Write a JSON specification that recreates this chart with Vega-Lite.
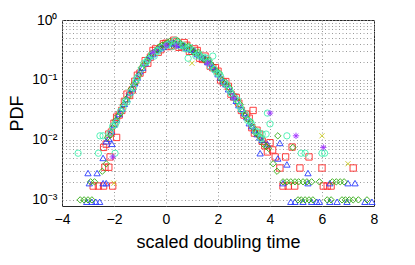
{
  "$schema": "https://vega.github.io/schema/vega-lite/v6.json",
  "width": 312,
  "height": 186,
  "autosize": "none",
  "padding": {"left": 62, "top": 20, "right": 41, "bottom": 59},
  "background": "white",
  "config": {
    "font": "Liberation Sans",
    "view": {"stroke": "#262626", "strokeWidth": 1},
    "axis": {
      "domain": false,
      "ticks": false,
      "grid": true,
      "gridColor": "#9a9a9a",
      "gridDash": [1, 2.5],
      "gridWidth": 1,
      "labelFont": "Liberation Sans",
      "labelFontSize": 14,
      "labelColor": "#000",
      "titleFont": "Liberation Sans",
      "titleFontSize": 18,
      "titleFontWeight": "normal",
      "titleColor": "#000"
    }
  },
  "data": {
    "values": [
      {"s":"r","x":-2.4,"y":0.0075},{"s":"r","x":-2.2,"y":0.0125},{"s":"r","x":-2.0,"y":0.019},{"s":"r","x":-1.8,"y":0.026},{"s":"r","x":-1.6,"y":0.044},{"s":"r","x":-1.4,"y":0.055},{"s":"r","x":-1.2,"y":0.095},{"s":"r","x":-1.0,"y":0.13},{"s":"r","x":-0.8,"y":0.21},{"s":"r","x":-0.6,"y":0.24},{"s":"r","x":-0.4,"y":0.33},{"s":"r","x":-0.2,"y":0.32},{"s":"r","x":0.0,"y":0.41},{"s":"r","x":0.2,"y":0.37},{"s":"r","x":0.4,"y":0.43},{"s":"r","x":0.6,"y":0.36},{"s":"r","x":0.8,"y":0.38},{"s":"r","x":1.0,"y":0.30},{"s":"r","x":1.2,"y":0.31},{"s":"r","x":1.4,"y":0.22},{"s":"r","x":1.6,"y":0.21},{"s":"r","x":1.8,"y":0.16},{"s":"r","x":2.0,"y":0.14},{"s":"r","x":2.2,"y":0.092},{"s":"r","x":2.4,"y":0.078},{"s":"r","x":2.6,"y":0.052},{"s":"r","x":2.8,"y":0.041},{"s":"r","x":3.0,"y":0.026},{"s":"r","x":3.2,"y":0.023},{"s":"r","x":3.35,"y":0.031},{"s":"r","x":3.4,"y":0.013},{"s":"r","x":3.6,"y":0.0125},{"s":"r","x":3.8,"y":0.008},{"s":"r","x":4.0,"y":0.009},{"s":"r","x":4.2,"y":0.0052},
      {"s":"r","x":-2.3,"y":0.0085},{"s":"r","x":-2.1,"y":0.0135},{"s":"r","x":-1.9,"y":0.024},{"s":"r","x":-1.7,"y":0.031},{"s":"r","x":-1.5,"y":0.058},{"s":"r","x":-1.3,"y":0.068},{"s":"r","x":-1.1,"y":0.12},{"s":"r","x":-0.9,"y":0.15},{"s":"r","x":-0.7,"y":0.19},{"s":"r","x":-0.5,"y":0.31},{"s":"r","x":-0.3,"y":0.29},{"s":"r","x":-0.1,"y":0.40},{"s":"r","x":0.1,"y":0.36},{"s":"r","x":0.3,"y":0.46},{"s":"r","x":0.5,"y":0.35},{"s":"r","x":0.7,"y":0.42},{"s":"r","x":0.9,"y":0.30},{"s":"r","x":1.1,"y":0.33},{"s":"r","x":1.3,"y":0.23},{"s":"r","x":1.5,"y":0.25},{"s":"r","x":1.7,"y":0.17},{"s":"r","x":1.9,"y":0.16},{"s":"r","x":2.1,"y":0.10},{"s":"r","x":2.3,"y":0.094},{"s":"r","x":2.5,"y":0.058},{"s":"r","x":2.7,"y":0.051},{"s":"r","x":2.9,"y":0.031},{"s":"r","x":3.1,"y":0.027},{"s":"r","x":3.3,"y":0.016},{"s":"r","x":3.5,"y":0.0145},{"s":"r","x":3.7,"y":0.0095},{"s":"r","x":3.9,"y":0.0063},{"s":"r","x":4.1,"y":0.0068},
      {"s":"r","x":4.38,"y":0.0034},{"s":"r","x":4.6,"y":0.0052},{"s":"r","x":4.85,"y":0.0076},{"s":"r","x":5.15,"y":0.0034},{"s":"r","x":5.5,"y":0.0052},{"s":"r","x":6.0,"y":0.0034},{"s":"r","x":7.2,"y":0.0034},{"s":"r","x":4.5,"y":0.0017},{"s":"r","x":4.7,"y":0.0017},{"s":"r","x":4.95,"y":0.0017},{"s":"r","x":6.05,"y":0.0017},{"s":"r","x":6.2,"y":0.0017},{"s":"r","x":6.35,"y":0.0017},
      {"s":"r","x":-2.35,"y":0.0035},{"s":"r","x":-2.2,"y":0.0035},{"s":"r","x":-2.8,"y":0.0017},{"s":"r","x":-2.6,"y":0.0017},{"s":"r","x":-2.4,"y":0.0017},{"s":"r","x":-2.05,"y":0.0017},{"s":"r","x":-2.15,"y":0.0052},{"s":"r","x":-1.9,"y":0.011},
      {"s":"b","x":-2.3,"y":0.0095},{"s":"b","x":-2.1,"y":0.014},{"s":"b","x":-1.9,"y":0.022},{"s":"b","x":-1.7,"y":0.033},{"s":"b","x":-1.5,"y":0.048},{"s":"b","x":-1.3,"y":0.072},{"s":"b","x":-1.1,"y":0.11},{"s":"b","x":-0.9,"y":0.16},{"s":"b","x":-0.7,"y":0.23},{"s":"b","x":-0.5,"y":0.27},{"s":"b","x":-0.3,"y":0.33},{"s":"b","x":-0.1,"y":0.36},{"s":"b","x":0.1,"y":0.40},{"s":"b","x":0.3,"y":0.42},{"s":"b","x":0.5,"y":0.39},{"s":"b","x":0.7,"y":0.37},{"s":"b","x":0.9,"y":0.33},{"s":"b","x":1.1,"y":0.30},{"s":"b","x":1.3,"y":0.26},{"s":"b","x":1.5,"y":0.23},{"s":"b","x":1.7,"y":0.19},{"s":"b","x":1.9,"y":0.15},{"s":"b","x":2.1,"y":0.11},{"s":"b","x":2.3,"y":0.085},{"s":"b","x":2.5,"y":0.065},{"s":"b","x":2.7,"y":0.045},{"s":"b","x":2.9,"y":0.033},{"s":"b","x":3.1,"y":0.024},{"s":"b","x":3.3,"y":0.017},{"s":"b","x":3.5,"y":0.0125},{"s":"b","x":3.7,"y":0.01},{"s":"b","x":3.9,"y":0.0085},
      {"s":"b","x":-2.2,"y":0.0105},{"s":"b","x":-2.0,"y":0.018},{"s":"b","x":-1.8,"y":0.027},{"s":"b","x":-1.6,"y":0.04},{"s":"b","x":-1.4,"y":0.062},{"s":"b","x":-1.2,"y":0.088},{"s":"b","x":-1.0,"y":0.14},{"s":"b","x":-0.8,"y":0.19},{"s":"b","x":-0.6,"y":0.25},{"s":"b","x":-0.4,"y":0.31},{"s":"b","x":-0.2,"y":0.34},{"s":"b","x":0.0,"y":0.39},{"s":"b","x":0.2,"y":0.41},{"s":"b","x":0.4,"y":0.40},{"s":"b","x":0.6,"y":0.39},{"s":"b","x":0.8,"y":0.34},{"s":"b","x":1.0,"y":0.32},{"s":"b","x":1.2,"y":0.27},{"s":"b","x":1.4,"y":0.24},{"s":"b","x":1.6,"y":0.2},{"s":"b","x":1.8,"y":0.165},{"s":"b","x":2.0,"y":0.125},{"s":"b","x":2.2,"y":0.095},{"s":"b","x":2.4,"y":0.07},{"s":"b","x":2.6,"y":0.053},{"s":"b","x":2.8,"y":0.038},{"s":"b","x":3.0,"y":0.028},{"s":"b","x":3.2,"y":0.019},{"s":"b","x":3.4,"y":0.0145},{"s":"b","x":3.6,"y":0.011},
      {"s":"b","x":-3.0,"y":0.0028},{"s":"b","x":-2.65,"y":0.0028},{"s":"b","x":-2.95,"y":0.0019},{"s":"b","x":-2.42,"y":0.0019},{"s":"b","x":-2.3,"y":0.0019},{"s":"b","x":-3.05,"y":0.00093},{"s":"b","x":-2.85,"y":0.00093},{"s":"b","x":-2.7,"y":0.00093},{"s":"b","x":-2.55,"y":0.00093},{"s":"b","x":-2.42,"y":0.005},{"s":"b","x":-2.08,"y":0.0086},
      {"s":"b","x":3.62,"y":0.006},{"s":"b","x":4.38,"y":0.0089},{"s":"b","x":4.3,"y":0.0049},{"s":"b","x":4.65,"y":0.0039},{"s":"b","x":5.46,"y":0.0028},{"s":"b","x":4.5,"y":0.0019},{"s":"b","x":5.46,"y":0.0019},{"s":"b","x":6.3,"y":0.0019},{"s":"b","x":7.0,"y":0.0019},{"s":"b","x":7.27,"y":0.0019},{"s":"b","x":4.8,"y":0.00093},{"s":"b","x":4.96,"y":0.00093},{"s":"b","x":5.27,"y":0.00093},{"s":"b","x":5.6,"y":0.00093},{"s":"b","x":5.8,"y":0.00093},{"s":"b","x":5.9,"y":0.00093},{"s":"b","x":6.3,"y":0.00093},{"s":"b","x":6.58,"y":0.00093},{"s":"b","x":6.96,"y":0.00093},{"s":"b","x":7.65,"y":0.00093},{"s":"b","x":7.92,"y":0.00093},
      {"s":"g","x":-2.25,"y":0.011},{"s":"g","x":-2.05,"y":0.016},{"s":"g","x":-1.85,"y":0.025},{"s":"g","x":-1.65,"y":0.038},{"s":"g","x":-1.45,"y":0.052},{"s":"g","x":-1.25,"y":0.085},{"s":"g","x":-1.05,"y":0.12},{"s":"g","x":-0.85,"y":0.18},{"s":"g","x":-0.65,"y":0.24},{"s":"g","x":-0.45,"y":0.29},{"s":"g","x":-0.25,"y":0.36},{"s":"g","x":-0.05,"y":0.39},{"s":"g","x":0.15,"y":0.44},{"s":"g","x":0.35,"y":0.40},{"s":"g","x":0.55,"y":0.41},{"s":"g","x":0.75,"y":0.35},{"s":"g","x":0.95,"y":0.34},{"s":"g","x":1.15,"y":0.28},{"s":"g","x":1.35,"y":0.25},{"s":"g","x":1.55,"y":0.21},{"s":"g","x":1.75,"y":0.18},{"s":"g","x":1.95,"y":0.14},{"s":"g","x":2.15,"y":0.10},{"s":"g","x":2.35,"y":0.08},{"s":"g","x":2.55,"y":0.058},{"s":"g","x":2.75,"y":0.044},{"s":"g","x":2.95,"y":0.03},{"s":"g","x":3.15,"y":0.022},{"s":"g","x":3.35,"y":0.016},{"s":"g","x":3.55,"y":0.012},{"s":"g","x":3.75,"y":0.0085},{"s":"g","x":3.95,"y":0.0072},
      {"s":"g","x":-2.15,"y":0.012},{"s":"g","x":-1.95,"y":0.021},{"s":"g","x":-1.75,"y":0.028},{"s":"g","x":-1.55,"y":0.047},{"s":"g","x":-1.35,"y":0.07},{"s":"g","x":-1.15,"y":0.092},{"s":"g","x":-0.95,"y":0.16},{"s":"g","x":-0.75,"y":0.2},{"s":"g","x":-0.55,"y":0.28},{"s":"g","x":-0.35,"y":0.32},{"s":"g","x":-0.15,"y":0.38},{"s":"g","x":0.05,"y":0.42},{"s":"g","x":0.25,"y":0.38},{"s":"g","x":0.45,"y":0.45},{"s":"g","x":0.65,"y":0.37},{"s":"g","x":0.85,"y":0.37},{"s":"g","x":1.05,"y":0.29},{"s":"g","x":1.25,"y":0.29},{"s":"g","x":1.45,"y":0.22},{"s":"g","x":1.65,"y":0.21},{"s":"g","x":1.85,"y":0.15},{"s":"g","x":2.05,"y":0.13},{"s":"g","x":2.25,"y":0.087},{"s":"g","x":2.45,"y":0.073},{"s":"g","x":2.65,"y":0.048},{"s":"g","x":2.85,"y":0.039},{"s":"g","x":3.05,"y":0.025},{"s":"g","x":3.25,"y":0.02},{"s":"g","x":3.45,"y":0.013},{"s":"g","x":3.65,"y":0.011},{"s":"g","x":3.85,"y":0.0078},
      {"s":"g","x":-3.3,"y":0.001},{"s":"g","x":-3.15,"y":0.001},{"s":"g","x":-3.0,"y":0.001},{"s":"g","x":-2.85,"y":0.001},{"s":"g","x":-2.9,"y":0.002},{"s":"g","x":-2.75,"y":0.002},{"s":"g","x":-2.3,"y":0.004},{"s":"g","x":-2.45,"y":0.003},
      {"s":"g","x":4.12,"y":0.004},{"s":"g","x":4.27,"y":0.003},{"s":"g","x":4.88,"y":0.0075},{"s":"g","x":4.3,"y":0.0117},{"s":"g","x":4.5,"y":0.002},{"s":"g","x":4.65,"y":0.002},{"s":"g","x":4.8,"y":0.002},{"s":"g","x":4.96,"y":0.002},{"s":"g","x":5.1,"y":0.002},{"s":"g","x":5.27,"y":0.002},{"s":"g","x":5.42,"y":0.002},{"s":"g","x":5.6,"y":0.002},{"s":"g","x":5.9,"y":0.002},{"s":"g","x":6.4,"y":0.002},{"s":"g","x":6.55,"y":0.002},{"s":"g","x":6.7,"y":0.002},{"s":"g","x":6.85,"y":0.002},{"s":"g","x":5.08,"y":0.001},{"s":"g","x":5.2,"y":0.001},{"s":"g","x":5.35,"y":0.001},{"s":"g","x":5.5,"y":0.001},{"s":"g","x":5.65,"y":0.001},{"s":"g","x":6.2,"y":0.001},{"s":"g","x":6.35,"y":0.001},{"s":"g","x":6.77,"y":0.001},{"s":"g","x":6.9,"y":0.001},{"s":"g","x":7.05,"y":0.001},{"s":"g","x":7.2,"y":0.001},{"s":"g","x":7.4,"y":0.001},{"s":"g","x":7.73,"y":0.001},
      {"s":"c","x":-2.15,"y":0.013},{"s":"c","x":-1.95,"y":0.018},{"s":"c","x":-1.75,"y":0.03},{"s":"c","x":-1.55,"y":0.045},{"s":"c","x":-1.35,"y":0.062},{"s":"c","x":-1.15,"y":0.1},{"s":"c","x":-0.95,"y":0.15},{"s":"c","x":-0.75,"y":0.2},{"s":"c","x":-0.55,"y":0.26},{"s":"c","x":-0.35,"y":0.31},{"s":"c","x":-0.15,"y":0.35},{"s":"c","x":0.05,"y":0.38},{"s":"c","x":0.25,"y":0.36},{"s":"c","x":0.45,"y":0.42},{"s":"c","x":0.65,"y":0.38},{"s":"c","x":0.85,"y":0.33},{"s":"c","x":1.05,"y":0.31},{"s":"c","x":1.25,"y":0.27},{"s":"c","x":1.45,"y":0.24},{"s":"c","x":1.65,"y":0.2},{"s":"c","x":1.85,"y":0.15},{"s":"c","x":2.05,"y":0.125},{"s":"c","x":2.25,"y":0.09},{"s":"c","x":2.45,"y":0.068},{"s":"c","x":2.65,"y":0.05},{"s":"c","x":2.85,"y":0.036},{"s":"c","x":3.05,"y":0.027},{"s":"c","x":3.25,"y":0.02},{"s":"c","x":3.45,"y":0.014},{"s":"c","x":3.65,"y":0.0105},
      {"s":"c","x":-1.9,"y":0.02},{"s":"c","x":-1.5,"y":0.043},{"s":"c","x":-1.1,"y":0.11},{"s":"c","x":-0.7,"y":0.22},{"s":"c","x":-0.3,"y":0.3},{"s":"c","x":0.1,"y":0.4},{"s":"c","x":0.5,"y":0.37},{"s":"c","x":0.9,"y":0.35},{"s":"c","x":1.3,"y":0.25},{"s":"c","x":1.7,"y":0.17},{"s":"c","x":2.1,"y":0.115},{"s":"c","x":2.5,"y":0.06},{"s":"c","x":2.9,"y":0.032},{"s":"c","x":3.3,"y":0.018},{"s":"c","x":3.7,"y":0.0125},
      {"s":"c","x":-2.05,"y":0.017},{"s":"c","x":-1.65,"y":0.034},{"s":"c","x":-1.25,"y":0.075},{"s":"c","x":-0.85,"y":0.19},{"s":"c","x":-0.45,"y":0.25},{"s":"c","x":0.35,"y":0.46},{"s":"c","x":0.75,"y":0.33},{"s":"c","x":1.15,"y":0.25},{"s":"c","x":1.55,"y":0.23},{"s":"c","x":1.95,"y":0.13},{"s":"c","x":2.35,"y":0.083},{"s":"c","x":2.75,"y":0.046},{"s":"c","x":3.15,"y":0.021},{"s":"c","x":3.55,"y":0.0135},
      {"s":"c","x":0.85,"y":0.23},{"s":"c","x":1.8,"y":0.25},{"s":"c","x":-2.54,"y":0.0117},{"s":"c","x":-2.42,"y":0.0117},{"s":"c","x":-3.38,"y":0.006},{"s":"c","x":-2.6,"y":0.006},{"s":"c","x":-1.96,"y":0.006},{"s":"c","x":3.9,"y":0.028},{"s":"c","x":4.0,"y":0.0185},{"s":"c","x":3.85,"y":0.0125},{"s":"c","x":4.65,"y":0.0117},{"s":"c","x":5.2,"y":0.006},{"s":"c","x":5.35,"y":0.006},{"s":"c","x":6.0,"y":0.006},{"s":"c","x":6.1,"y":0.006},
      {"s":"m","x":-0.5,"y":0.29},{"s":"m","x":0.0,"y":0.38},{"s":"m","x":0.4,"y":0.37},{"s":"m","x":1.6,"y":0.19},{"s":"m","x":2.6,"y":0.05},{"s":"m","x":4.0,"y":0.028},{"s":"m","x":5.0,"y":0.0117},{"s":"m","x":6.05,"y":0.0075},{"s":"m","x":-2.05,"y":0.0052},
      {"s":"y","x":1.0,"y":0.19},{"s":"y","x":6.0,"y":0.0117},{"s":"y","x":7.0,"y":0.004},{"s":"y","x":-2.0,"y":0.0019}
    ]
  },
  "mark": {"type": "point", "filled": false, "strokeWidth": 0.9, "opacity": 1, "size": 40},
  "encoding": {
    "x": {
      "field": "x", "type": "quantitative",
      "scale": {"domain": [-4, 8], "nice": false, "zero": false},
      "axis": {"values": [-4, -2, 0, 2, 4, 6, 8], "title": "scaled doubling time", "labelPadding": 6, "titlePadding": 7, "labelFlush": false}
    },
    "y": {
      "field": "y", "type": "quantitative",
      "scale": {"type": "log", "domain": [0.00079, 1.0], "nice": false},
      "axis": {
        "values": [0.001,0.002,0.003,0.004,0.005,0.006,0.007,0.008,0.009,0.01,0.02,0.03,0.04,0.05,0.06,0.07,0.08,0.09,0.1,0.2,0.3,0.4,0.5,0.6,0.7,0.8,0.9,1],
        "labelExpr": "datum.value > 0.99 ? '10⁰' : (datum.value > 0.099 && datum.value < 0.101) ? '10⁻¹' : (datum.value > 0.0099 && datum.value < 0.0101) ? '10⁻²' : (datum.value > 0.00099 && datum.value < 0.00101) ? '10⁻³' : ''",
        "labelOverlap": false,
        "labelBound": false,
        "labelFlush": false,
        "labelPadding": 5,
        "title": "PDF",
        "titlePadding": 5
      }
    },
    "color": {
      "field": "s", "type": "nominal", "legend": null,
      "scale": {"domain": ["r","b","g","c","m","y"], "range": ["#ff2a2a","#2a3cff","#2faa10","#45f0b0","#a030ff","#c8c820"]}
    },
    "shape": {
      "field": "s", "type": "nominal", "legend": null,
      "scale": {"domain": ["r","b","g","c","m","y"], "range": ["square","triangle-up","diamond","circle","M-1,0L1,0M0,-1L0,1M-0.7,-0.7L0.7,0.7M-0.7,0.7L0.7,-0.7","M-0.8,-0.8L0.8,0.8M-0.8,0.8L0.8,-0.8"]}
    }
  }
}
